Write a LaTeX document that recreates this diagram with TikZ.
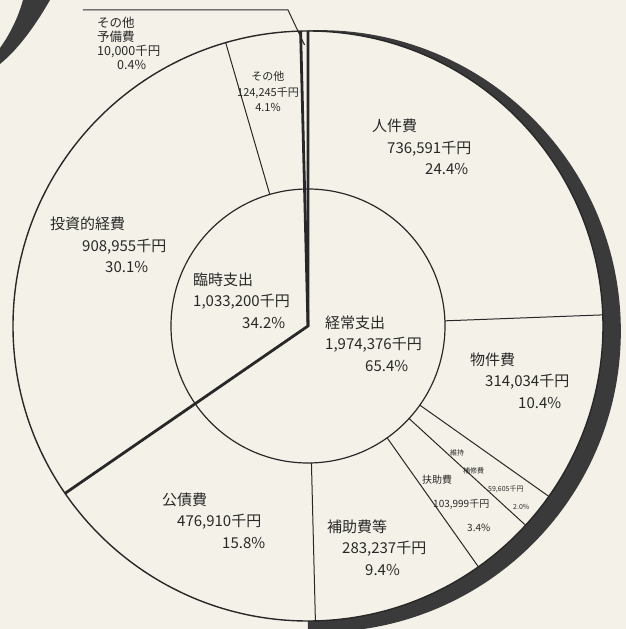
\documentclass[tikz,border=0pt]{standalone}
\usepackage{fontspec}
\usepackage{xcolor}
\newfontfamily\jpfont{Noto Sans CJK JP}
\definecolor{paper}{RGB}{244,242,232}
\definecolor{ink}{RGB}{40,40,40}
\definecolor{hatch}{RGB}{58,58,58}
\usetikzlibrary{calc}

\tikzset{
  lbl/.style={font=\jpfont\fontsize{15}{21.5}\selectfont, text=ink, align=left, inner sep=0pt, anchor=base west},
  lblsm/.style={lbl, font=\jpfont\fontsize{10}{24}\selectfont},
  lbltiny/.style={lbl, font=\jpfont\fontsize{7}{18}\selectfont},
  lblmid/.style={lbl, font=\jpfont\fontsize{11}{15.5}\selectfont, align=center, anchor=base},
  lblyobi/.style={lbl, font=\jpfont\fontsize{12.5}{14}\selectfont},
  thinline/.style={ink, line width=1pt},
  thickline/.style={ink, line width=2.8pt, line join=miter}
}

\begin{document}
\begin{tikzpicture}[x=1pt,y=1pt]
            \fill[paper] (-308,-303) rectangle (318,326);
            \useasboundingbox (-308,-303) rectangle (318,326);
            \begin{scope}
                \clip (0,-303) rectangle (318,326);
                \fill[hatch, even odd rule] (11.84,-5.16) circle (301) (0,0) circle (295);
            \end{scope}
            \fill[hatch] (-258,326) .. controls (-270,305) and (-288,278) .. (-308,262)
                -- (-308,278) .. controls (-298,292) and (-290,308) .. (-285,326) -- cycle;
            \draw[ink, line width=1.4pt] (0,0) circle (295);
            \draw[ink, line width=1.2pt] (0,0) circle (137);
            \foreach \a in {2.16,-35.28,-42.48,-54.72,-88.56,106.2}
                \draw[thinline] (\a:137) -- (\a:295);
            \draw[thickline] (90:295) -- (0,0) -- (-145.44:295);
            \draw[thickline] (91.44:295) -- (0,0);
            \coordinate (yobi start) at (-225,316);
            \coordinate (yobi bend) at (-20,316);
            \coordinate (yobi tip) at (90.7:281);
            \draw[thinline] (yobi start) -- (yobi bend) -- (yobi tip);
            \node (jinken) at (64,151) [lbl] {人件費\\\hspace*{15pt}736,591千円\\\hspace*{53pt}24.4\%};
            \node (bukken) at (162,-82) [lbl] {物件費\\\hspace*{15pt}314,034千円\\\hspace*{48pt}10.4\%};
            \node (keijo) at (17,-45) [lbl] {経常支出\\1,974,376千円\\\hspace*{40pt}65.4\%};
            \node (rinji) at (-115,-2) [lbl] {臨時支出\\1,033,200千円\\\hspace*{49pt}34.2\%};
            \node (toshi) at (-258,53) [lbl] {投資的経費\\\hspace*{32pt}908,955千円\\\hspace*{55pt}30.1\%};
            \node (kosai) at (-146,-222) [lbl] {公債費\\\hspace*{15pt}476,910千円\\\hspace*{60pt}15.8\%};
            \node (hojo) at (19,-249) [lbl] {補助費等\\\hspace*{15pt}283,237千円\\\hspace*{38pt}9.4\%};
            \node (fujo) at (114,-205) [lblsm] {扶助費\\\hspace*{11pt}103,999千円\\\hspace*{45pt}3.4\%};
            \node (iji) at (142,-183.5) [lbltiny] {維持\\\hspace*{13pt}補修費\\\hspace*{38pt}59,605千円\\\hspace*{63pt}2.0\%};
            \node (sonota) at (-40,214) [lblmid] {その他\\124,245千円\\4.1\%};
            \node (yobi) at (-211,256.5) [lblyobi] {その他\\予備費\\10,000千円\\\hspace*{20pt}0.4\%};
        \end{tikzpicture}
\end{document}
